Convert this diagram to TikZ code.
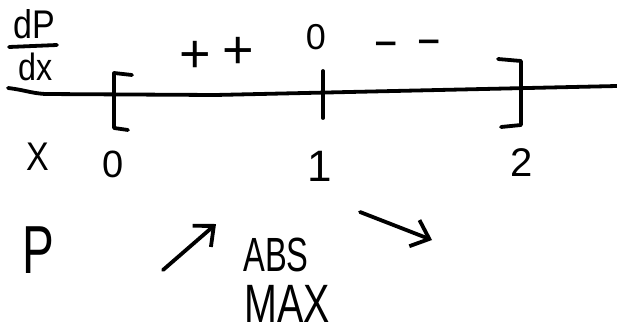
\documentclass[tikz,border=0pt]{standalone}
\usepackage{fontspec}
\setmainfont{Liberation Sans}
\usetikzlibrary{arrows.meta}
\begin{document}
\begin{tikzpicture}[x=1pt,y=-1pt,
  ink/.style={line width=3.8pt,line cap=round,line join=round,black},
  txt/.style={inner sep=0pt,font=\fontsize{#1}{#1}\selectfont},
  arr/.style={ink,-{Straight Barb[length=16pt,width=28pt,line width=3.8pt]}}]
\useasboundingbox (0,0) rectangle (617,335);
% axis
\coordinate (axL) at (8,88);
\coordinate (axR) at (617,86);
\draw[ink] (axL) .. controls (25,90) and (30,93) .. (45,94) -- (215,95) -- (axR);
% derivative label
\node[txt=40] (dP) at (34,24) {\scalebox{0.85}[1]{dP}};
\node[txt=38] (dx) at (36,67) {\scalebox{0.85}[1]{dx}};
\coordinate (barL) at (9,47);
\coordinate (barR) at (57,45);
\draw[ink] (barL) -- (barR);
% brackets and tick
\draw[ink] (132,75) -- (114,73) -- (114,128) -- (128,130);
\draw[ink] (323,71) -- (323,118);
\draw[ink] (498,59) -- (521,61) -- (521,125) -- (501,127);
% signs
\node[txt=54] (pl1) at (195,57) {+};
\node[txt=54] (pl2) at (238,53) {+};
\node[txt=36] (z0) at (316,37) {0};
\node[txt=50] (mi1) at (386,51) {\scalebox{0.8}[1]{−}};
\node[txt=50] (mi2) at (429,49) {\scalebox{0.8}[1]{−}};
% x row
\node[txt=40] (xl) at (38,157) {\scalebox{0.85}[1]{X}};
\node[txt=38] (x0) at (113,164) {0};
\node[txt=44] (x1) at (320,166) {1};
\node[txt=40] (x2) at (522,163) {2};
% P row
\node[txt=68] (P) at (38,250) {\scalebox{0.7}[1]{P}};
\coordinate (a1s) at (163,270);
\coordinate (a1e) at (216,224);
\draw[arr] (a1s) -- (a1e);
\node[txt=48] (abs) at (276,255) {\scalebox{0.68}[1]{ABS}};
\node[txt=54] (max) at (287,304) {\scalebox{0.73}[1]{MAX}};
\coordinate (a2s) at (360,212);
\coordinate (a2e) at (432,240);
\draw[arr] (a2s) -- (a2e);
\end{tikzpicture}
\end{document}
